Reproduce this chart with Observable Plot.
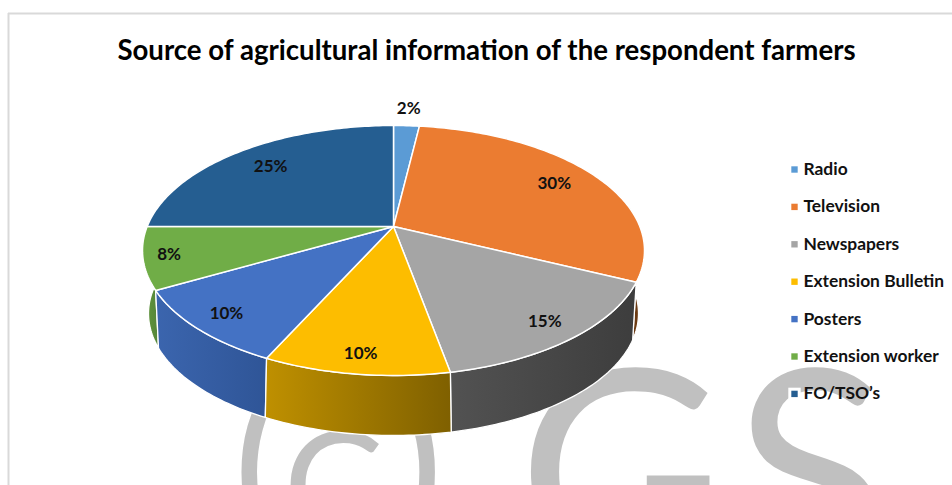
<!DOCTYPE html>
<html>
<head>
<meta charset="utf-8">
<script src="https://cdn.jsdelivr.net/npm/d3@7"></script>
<script src="https://cdn.jsdelivr.net/npm/@observablehq/plot@0.6"></script>
<style>
  html, body { margin: 0; padding: 0; background: #fff; }
  svg { display: block; }
</style>
</head>
<body>
<div id="chart"></div>
<script>
// Survey shares
const sources = ["Radio", "Television", "Newspapers", "Extension Bulletin", "Posters", "Extension worker", "FO/TSO’s"];
const shares = [2, 30, 15, 10, 10, 8, 25];
const faceColors = ["#5b9bd5", "#eb7c31", "#a5a5a5", "#fdbd00", "#4472c4", "#70ad47", "#255e91"];
const wallStops = [
  ["#3f7ab0", "#36688f"],
  ["#6b3a12", "#6b3a12"],
  ["#525252", "#3d3d3d"],
  ["#bf9000", "#7f6000"],
  ["#3b65ae", "#2f5597"],
  ["#64993c", "#55853a"],
  ["#1f4e79", "#1f4e79"]
];
const labelRadius = [1.21, 0.8, 0.87, 0.885, 0.87, 0.9, 0.78];

const width = 952, height = 485;
const font = "Lato, Carlito, Calibri, sans-serif";

// Tilted disc: a projective map of the unit circle onto an ellipse, so the
// apex sits above the ellipse centre the way a perspective pie does.
const topDisc = {cx: 393, cy: 250, rx: 251, ry: 125, k: -0.192};
const baseDisc = {cx: 393, cy: 313, rx: 245, ry: 122, k: -0.23};

function project(disc, r, deg) {
  const t = deg * Math.PI / 180;
  const u = r * Math.sin(t), v = -r * Math.cos(t);
  const d = 1 + disc.k * v;
  return {
    x: disc.cx + disc.rx * u * Math.sqrt(1 - disc.k * disc.k) / d,
    y: disc.cy + disc.ry * (v + disc.k) / d
  };
}

function arc(disc, a0, a1) {
  const n = Math.max(2, Math.ceil(Math.abs(a1 - a0)));
  return d3.range(n + 1).map(i => project(disc, 1, a0 + (a1 - a0) * i / n));
}

// Cumulative angles of each slice, clockwise from twelve o'clock
let acc = 0;
const slices = sources.map((name, i) => {
  const a0 = acc * 3.6;
  acc += shares[i];
  return {name, i, share: shares[i], a0, a1: acc * 3.6, mid: (a0 + acc * 3.6) / 2};
});

const faces = slices.flatMap(s => {
  const apex = project(topDisc, 0, 0);
  return [apex, ...arc(topDisc, s.a0, s.a1), apex].map(p => ({...p, name: s.name, color: faceColors[s.i]}));
});

// Walls run between the top rim and the base rim; furthest from the viewer first
const wallOrder = [...slices].sort((a, b) => Math.abs(b.mid - 180) - Math.abs(a.mid - 180));
const wallMarks = wallOrder.map(s => {
  const top = arc(topDisc, s.a0, s.a1);
  const base = arc(baseDisc, s.a1, s.a0);
  return Plot.line([...top, ...base, top[0]], {
    x: "x", y: "y", curve: "linear",
    fill: `url(#wall-${s.i})`, stroke: "#fff", strokeWidth: 1.3, strokeLinejoin: "round"
  });
});

function gradients() {
  const defs = d3.create("svg:defs");
  wallStops.forEach((stops, i) => {
    const g = defs.append("linearGradient").attr("id", `wall-${i}`);
    g.append("stop").attr("offset", "0%").attr("stop-color", stops[0]);
    g.append("stop").attr("offset", "100%").attr("stop-color", stops[1]);
  });
  return defs.node();
}

const labels = slices.map(s => ({...project(topDisc, labelRadius[s.i], s.mid), text: `${s.share}%`}));

const legendY = (d, i) => 169 + i * 37.4;

// Large copyright stamp running behind the chart
const stamp = [
  {text: "(", x: 232, y: 470, size: 200},
  {text: "C", x: 283, y: 490, size: 150},
  {text: ")", x: 390, y: 470, size: 200},
  {text: "G", x: 517, y: 482, size: 285},
  {text: "S", x: 733, y: 482, size: 285}
];
const stampMarks = stamp.map(w => Plot.text([w], {
  x: "x", y: "y", text: "text", fontSize: w.size, fontFamily: font,
  textAnchor: "start", lineAnchor: "middle", fill: "#c0c0c0"
}));

const chart = Plot.plot({
  width, height,
  margin: 0,
  x: {domain: [0, width], range: [0, width], axis: null},
  y: {domain: [0, height], range: [0, height], axis: null},
  marks: [
    gradients,
    ...stampMarks,
    // Chart frame, top and left edges
    Plot.ruleX([8], {y1: 13, y2: height, stroke: "#d9d9d9", strokeWidth: 2}),
    Plot.ruleY([13], {x1: 8, x2: width, stroke: "#d9d9d9", strokeWidth: 2}),
    Plot.text(["Source of agricultural information of the respondent farmers"], {
      x: () => 486, y: () => 51, text: d => d,
      fontSize: 27.6, fontWeight: 700, fontFamily: font, fill: "#000"
    }),
    ...wallMarks,
    Plot.line(faces, {
      x: "x", y: "y", z: "name", fill: "color", curve: "linear",
      stroke: "#fff", strokeWidth: 1.5, strokeLinejoin: "round"
    }),
    Plot.text(labels, {
      x: "x", y: "y", text: "text",
      fontSize: 17, fontWeight: 700, fontFamily: font, fill: "#111"
    }),
    // Legend
    Plot.dot(sources, {x: () => 794, y: legendY, symbol: "square", r: 7, fill: "#fff"}),
    Plot.dot(sources, {x: () => 794, y: legendY, symbol: "square", r: 3.6, fill: (d, i) => faceColors[i]}),
    Plot.text(sources, {
      x: () => 803, y: legendY, text: d => d, textAnchor: "start",
      fontSize: 17.4, fontWeight: 700, fontFamily: font, fill: "#111"
    })
  ]
});
document.getElementById("chart").append(chart);
</script>
</body>
</html>
